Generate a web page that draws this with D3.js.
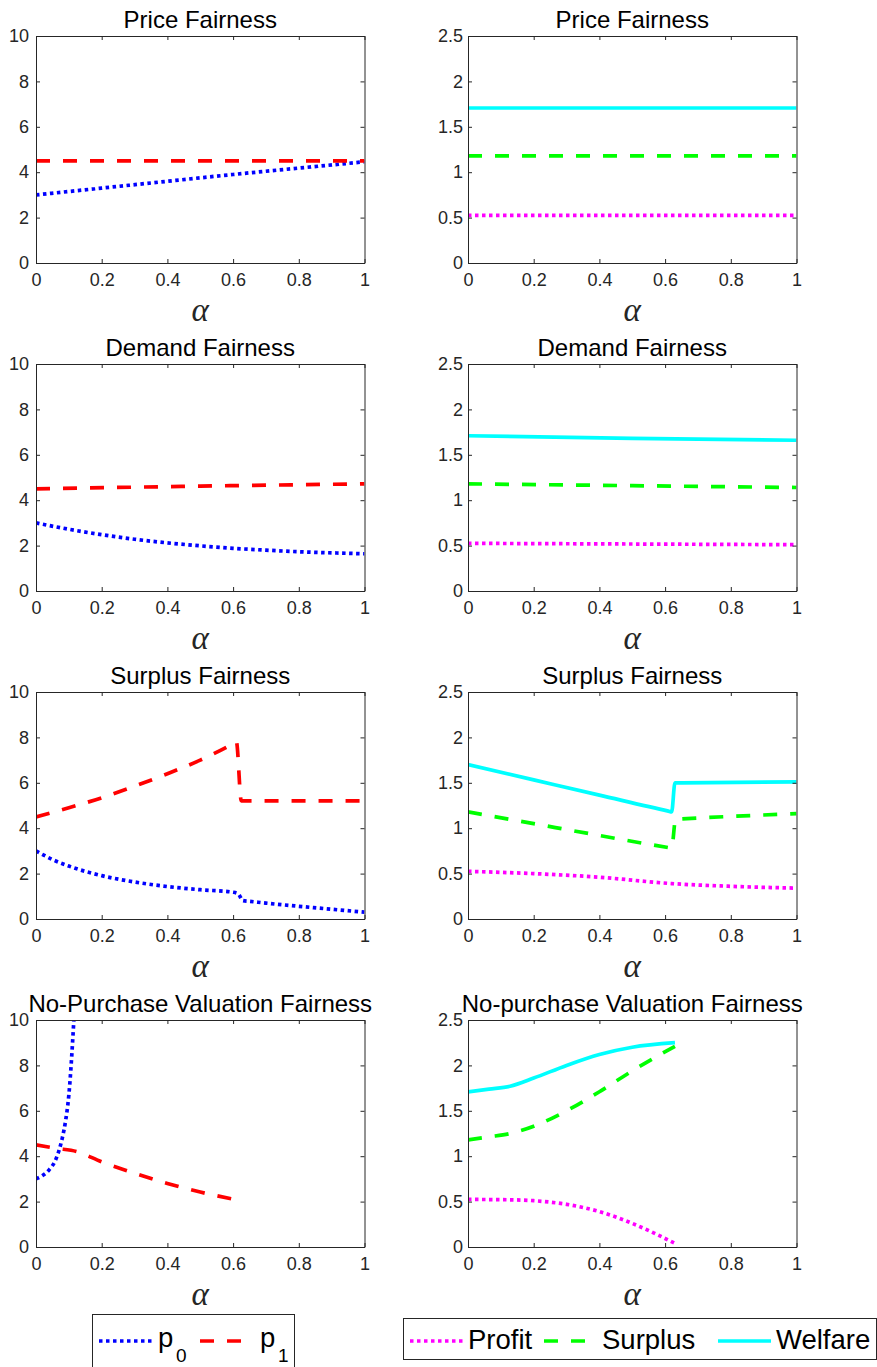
<!DOCTYPE html>
<html>
<head>
<meta charset="utf-8">
<script src="https://cdn.jsdelivr.net/npm/d3@7"></script>
<style>
  body { margin: 0; background: #fff; }
  svg { display: block; }
</style>
</head>
<body>
<svg id="grafico"></svg>
<script>
// Datos (alpha, valor)
const ticksX = [0, 0.2, 0.4, 0.6, 0.8, 1];
const ticksPrecio = [0, 2, 4, 6, 8, 10];
const ticksBienestar = [0, 0.5, 1, 1.5, 2, 2.5];

const titulosIzq = ["Price Fairness", "Demand Fairness", "Surplus Fairness", "No-Purchase Valuation Fairness"];
const titulosDer = ["Price Fairness", "Demand Fairness", "Surplus Fairness", "No-purchase Valuation Fairness"];

// Fila 1: Price Fairness
const precioP0 = [[0, 3.0], [0.2, 3.3], [0.4, 3.6], [0.6, 3.9], [0.8, 4.18], [1, 4.46]];
const precioP1 = [[0, 4.5], [1, 4.5]];
const precioProfit = [[0, 0.525], [1, 0.525]];
const precioSurplus = [[0, 1.18], [1, 1.18]];
const precioWelfare = [[0, 1.707], [1, 1.707]];

// Fila 2: Demand Fairness
const demandaP0 = [[0, 3.0], [0.1, 2.72], [0.2, 2.48], [0.3, 2.28], [0.4, 2.12], [0.5, 1.99], [0.6, 1.88], [0.7, 1.8], [0.8, 1.73], [0.9, 1.68], [1, 1.64]];
const demandaP1 = [[0, 4.5], [0.5, 4.62], [1, 4.72]];
const demandaProfit = [[0, 0.525], [1, 0.51]];
const demandaSurplus = [[0, 1.18], [0.5, 1.16], [1, 1.14]];
const demandaWelfare = [[0, 1.71], [0.5, 1.68], [1, 1.66]];

// Fila 3: Surplus Fairness
const excedenteP0 = [[0, 3.0], [0.05, 2.62], [0.1, 2.33], [0.2, 1.91], [0.3, 1.63], [0.4, 1.43], [0.5, 1.29], [0.6, 1.18], [0.615, 1.12], [0.63, 0.81], [0.65, 0.78], [0.7, 0.7], [0.8, 0.56], [0.9, 0.43], [1, 0.3]];
const excedenteP1 = [[0, 4.5], [0.1, 4.9], [0.2, 5.34], [0.3, 5.85], [0.4, 6.4], [0.5, 7.0], [0.6, 7.72], [0.61, 7.8], [0.625, 5.2], [0.64, 5.2], [1, 5.2]];
const excedenteProfit = [[0, 0.525], [0.2, 0.5], [0.4, 0.46], [0.62, 0.39], [0.8, 0.36], [1, 0.34]];
const excedenteSurplus = [[0, 1.18], [0.2, 1.05], [0.4, 0.92], [0.61, 0.786], [0.62, 0.78], [0.632, 1.1], [0.65, 1.103], [0.8, 1.13], [1, 1.16]];
const excedenteWelfare = [[0, 1.70], [0.2, 1.532], [0.4, 1.364], [0.61, 1.188], [0.62, 1.18], [0.63, 1.5], [0.65, 1.5], [1, 1.51]];

// Fila 4: No-Purchase Valuation Fairness
const valoracionP0 = [[0, 3.0], [0.02, 3.15], [0.04, 3.4], [0.06, 3.85], [0.07, 4.25], [0.08, 4.8], [0.09, 5.55], [0.1, 6.7], [0.105, 7.6], [0.11, 8.7], [0.116, 10.2]];
const valoracionP1 = [[0, 4.5], [0.06, 4.35], [0.125, 4.2], [0.2, 3.75], [0.3, 3.25], [0.4, 2.8], [0.5, 2.42], [0.62, 2.05]];
const valoracionProfit = [[0, 0.524], [0.128, 0.52], [0.2, 0.51], [0.3, 0.47], [0.4, 0.39], [0.5, 0.26], [0.63, 0.04]];
const valoracionSurplus = [[0, 1.18], [0.064, 1.213], [0.128, 1.25], [0.2, 1.33], [0.3, 1.5], [0.4, 1.71], [0.5, 1.94], [0.63, 2.21]];
const valoracionWelfare = [[0, 1.708], [0.064, 1.738], [0.128, 1.77], [0.2, 1.86], [0.3, 2.0], [0.4, 2.12], [0.5, 2.2], [0.63, 2.25]];

// Estilos de cada serie
const estilos = {
  p0: { color: "#0000ff", dash: "3.5,3.5" },
  p1: { color: "#ff0000", dash: "14,13" },
  Profit: { color: "#ff00ff", dash: "3.5,3.5" },
  Surplus: { color: "#00ff00", dash: "14,13" },
  Welfare: { color: "#00ffff", dash: null }
};

const ancho = 877, alto = 1367;
const colX = [36, 468];
const filaY = [36, 364, 692, 1020];
const anchoPanel = 328.5, altoPanel = 227;
const gris = "#262626";
const fuente = "'Liberation Sans', Arial, Helvetica, sans-serif";

const svg = d3.select("#grafico")
  .attr("width", ancho)
  .attr("height", alto)
  .attr("viewBox", `0 0 ${ancho} ${alto}`);

const paneles = [
  { fila: 0, col: 0, titulo: titulosIzq[0], series: [["p0", precioP0], ["p1", precioP1]] },
  { fila: 0, col: 1, titulo: titulosDer[0], series: [["Profit", precioProfit], ["Surplus", precioSurplus], ["Welfare", precioWelfare]] },
  { fila: 1, col: 0, titulo: titulosIzq[1], series: [["p0", demandaP0], ["p1", demandaP1]] },
  { fila: 1, col: 1, titulo: titulosDer[1], series: [["Profit", demandaProfit], ["Surplus", demandaSurplus], ["Welfare", demandaWelfare]] },
  { fila: 2, col: 0, titulo: titulosIzq[2], series: [["p0", excedenteP0], ["p1", excedenteP1]] },
  { fila: 2, col: 1, titulo: titulosDer[2], series: [["Profit", excedenteProfit], ["Surplus", excedenteSurplus], ["Welfare", excedenteWelfare]] },
  { fila: 3, col: 0, titulo: titulosIzq[3], series: [["p0", valoracionP0], ["p1", valoracionP1]] },
  { fila: 3, col: 1, titulo: titulosDer[3], series: [["Profit", valoracionProfit], ["Surplus", valoracionSurplus], ["Welfare", valoracionWelfare]] }
];

paneles.forEach((p, i) => {
  const izquierda = p.col === 0;
  const g = svg.append("g")
    .attr("transform", `translate(${colX[p.col]},${filaY[p.fila]})`);

  const x = d3.scaleLinear().domain([0, 1]).range([0, anchoPanel]);
  const y = d3.scaleLinear()
    .domain(izquierda ? [0, 10] : [0, 2.5])
    .range([altoPanel, 0]);
  const ticksY = izquierda ? ticksPrecio : ticksBienestar;

  // recorte al área del panel
  g.append("clipPath").attr("id", "recorte" + i)
    .append("rect")
    .attr("width", anchoPanel)
    .attr("height", altoPanel);

  // líneas
  const linea = d3.line()
    .x(d => x(d[0]))
    .y(d => y(d[1]))
    .curve(d3.curveMonotoneX);

  const capa = g.append("g").attr("clip-path", `url(#recorte${i})`);
  p.series.forEach(([nombre, datos]) => {
    capa.append("path")
      .datum(datos)
      .attr("fill", "none")
      .attr("stroke", estilos[nombre].color)
      .attr("stroke-width", 3.7)
      .attr("stroke-dasharray", estilos[nombre].dash)
      .attr("d", linea);
  });

  // ejes (caja completa con marcas hacia dentro)
  const ejeAbajo = g.append("g")
    .attr("transform", `translate(0,${altoPanel})`)
    .call(d3.axisBottom(x).tickValues(ticksX).tickSizeInner(-4).tickSizeOuter(0).tickPadding(10).tickFormat(d => String(d)));
  const ejeIzq = g.append("g")
    .call(d3.axisLeft(y).tickValues(ticksY).tickSizeInner(-4).tickSizeOuter(0).tickPadding(izquierda ? 7 : 5).tickFormat(d => String(d)));
  const ejeArriba = g.append("g")
    .call(d3.axisTop(x).tickValues(ticksX).tickSizeInner(-4).tickSizeOuter(0).tickFormat(""));
  const ejeDer = g.append("g")
    .attr("transform", `translate(${anchoPanel},0)`)
    .call(d3.axisRight(y).tickValues(ticksY).tickSizeInner(-4).tickSizeOuter(0).tickFormat(""));

  [ejeAbajo, ejeIzq, ejeArriba, ejeDer].forEach(e => {
    e.selectAll("path, line").attr("stroke", gris);
    e.selectAll("text")
      .attr("fill", gris)
      .style("font-family", fuente)
      .style("font-size", "18px");
  });

  // título
  g.append("text")
    .attr("x", anchoPanel / 2)
    .attr("y", -8)
    .attr("text-anchor", "middle")
    .style("font-family", fuente)
    .style("font-size", "24px")
    .attr("fill", "#000")
    .text(p.titulo);

  // etiqueta del eje x
  g.append("text")
    .attr("x", anchoPanel / 2)
    .attr("y", altoPanel + 58)
    .attr("text-anchor", "middle")
    .style("font-family", "'Liberation Serif', 'Times New Roman', serif")
    .style("font-style", "italic")
    .style("font-size", "33px")
    .attr("fill", gris)
    .text("α");
});

// Leyendas
function muestra(g, x0, y0, nombre) {
  g.append("line")
    .attr("x1", x0).attr("x2", x0 + 53)
    .attr("y1", y0).attr("y2", y0)
    .attr("stroke", estilos[nombre].color)
    .attr("stroke-width", 3.7)
    .attr("stroke-dasharray", estilos[nombre].dash);
}

const leyendaIzq = svg.append("g").attr("transform", "translate(92,1314)");
leyendaIzq.append("rect")
  .attr("x", 0.5).attr("y", 0.5)
  .attr("width", 202).attr("height", 80)
  .attr("fill", "#fff").attr("stroke", gris);
muestra(leyendaIzq, 7, 27, "p0");
muestra(leyendaIzq, 108, 27, "p1");
[["0", 66], ["1", 168]].forEach(([sub, x0]) => {
  leyendaIzq.append("text")
    .attr("x", x0).attr("y", 33)
    .style("font-family", fuente).style("font-size", "27.5px")
    .attr("fill", "#000").text("p");
  leyendaIzq.append("text")
    .attr("x", x0 + 18).attr("y", 48)
    .style("font-family", fuente).style("font-size", "19px")
    .attr("fill", "#000").text(sub);
});

const leyendaDer = svg.append("g").attr("transform", "translate(403,1318)");
leyendaDer.append("rect")
  .attr("x", 0.5).attr("y", 0.5)
  .attr("width", 473).attr("height", 41)
  .attr("fill", "#fff").attr("stroke", gris);
[["Profit", 7], ["Surplus", 141], ["Welfare", 315]].forEach(([nombre, x0]) => {
  muestra(leyendaDer, x0, 23, nombre);
  leyendaDer.append("text")
    .attr("x", x0 + 58).attr("y", 30.5)
    .style("font-family", fuente).style("font-size", "27.5px")
    .attr("fill", "#000").text(nombre);
});
</script>
</body>
</html>
